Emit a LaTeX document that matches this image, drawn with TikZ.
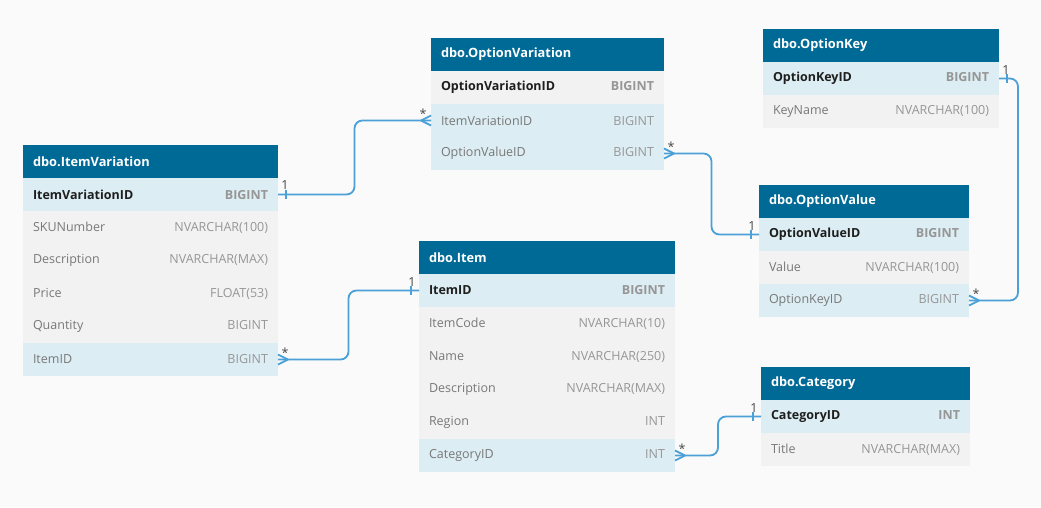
\documentclass[tikz,border=0pt]{standalone}
\usepackage{fontspec}
\setmainfont{Open Sans}
\usetikzlibrary{calc}

\definecolor{bgc}{RGB}{250,250,250}
\definecolor{hdrc}{RGB}{0,106,150}
\definecolor{rowblue}{RGB}{220,237,243}
\definecolor{rowgray}{RGB}{242,242,242}
\definecolor{pkname}{RGB}{30,30,30}
\definecolor{pktype}{RGB}{150,150,150}
\definecolor{fname}{RGB}{120,120,120}
\definecolor{ftype}{RGB}{150,150,150}
\definecolor{connc}{RGB}{75,160,215}
\definecolor{cardc}{RGB}{70,70,70}

% one table row: column name left, column type right
\newcommand\pk[2]{\hbox to \hsize{\bfseries\color{pkname}#1\hfill\color{pktype}#2}}
\newcommand\fld[2]{\hbox to \hsize{\color{fname}#1\hfill\color{ftype}#2}}

% relation end markers
\newcommand\manymark[2]{\draw[conn,rounded corners=0pt] ([xshift=#2]#1) -- ([yshift=5pt]#1) ([xshift=#2]#1) -- ([yshift=-5pt]#1);}
\newcommand\onemark[2]{\draw[conn,rounded corners=0pt] ([xshift=#2,yshift=4.5pt]#1) -- ([xshift=#2,yshift=-4.5pt]#1);}

\tikzset{
  cell/.style={rectangle, anchor=north west, inner xsep=10pt, inner ysep=0pt,
    outer sep=0pt, minimum height=33pt, align=left, font=\fontsize{12.5}{15}\selectfont},
  hdr/.style={cell, fill=hdrc, text=white, font=\fontsize{12.8}{15}\selectfont\bfseries},
  blue/.style={cell, fill=rowblue},
  gray/.style={cell, fill=rowgray},
  conn/.style={draw=connc, line width=1.8pt, rounded corners=8pt},
  card/.style={text=cardc, inner sep=0pt, font=\fontsize{12.5}{14}\selectfont}
}

\begin{document}
\begin{tikzpicture}[x=1pt,y=-1pt]
\fill[bgc] (0,0) rectangle (1041,507);
\useasboundingbox (0,0) rectangle (1041,507);

% dbo.ItemVariation
\begin{scope}[every node/.append style={text width=235pt}]
\node[hdr] (iv) at (23,145) {dbo.ItemVariation};
\node[blue] (iv1) at (iv.south west) {\pk{ItemVariationID}{BIGINT}};
\node[gray] (iv2) at (iv1.south west) {\fld{SKUNumber}{NVARCHAR(100)}};
\node[gray] (iv3) at (iv2.south west) {\fld{Description}{NVARCHAR(MAX)}};
\node[gray] (iv4) at (iv3.south west) {\fld{Price}{FLOAT(53)}};
\node[gray] (iv5) at (iv4.south west) {\fld{Quantity}{BIGINT}};
\node[blue] (iv6) at (iv5.south west) {\fld{ItemID}{BIGINT}};
\end{scope}

% dbo.OptionVariation
\begin{scope}[every node/.append style={text width=213pt}]
\node[hdr] (ov) at (431,38) {dbo.OptionVariation};
\node[gray] (ov1) at (ov.south west) {\pk{OptionVariationID}{BIGINT}};
\node[blue] (ov2) at (ov1.south west) {\fld{ItemVariationID}{BIGINT}};
\node[blue] (ov3) at (ov2.south west) {\fld{OptionValueID}{BIGINT}};
\end{scope}

% dbo.OptionKey
\begin{scope}[every node/.append style={text width=216pt}]
\node[hdr] (ok) at (763,29) {dbo.OptionKey};
\node[blue] (ok1) at (ok.south west) {\pk{OptionKeyID}{BIGINT}};
\node[gray] (ok2) at (ok1.south west) {\fld{KeyName}{NVARCHAR(100)}};
\end{scope}

% dbo.OptionValue
\begin{scope}[every node/.append style={text width=190pt}]
\node[hdr] (vl) at (759,185) {dbo.OptionValue};
\node[blue] (vl1) at (vl.south west) {\pk{OptionValueID}{BIGINT}};
\node[gray] (vl2) at (vl1.south west) {\fld{Value}{NVARCHAR(100)}};
\node[blue] (vl3) at (vl2.south west) {\fld{OptionKeyID}{BIGINT}};
\end{scope}

% dbo.Item
\begin{scope}[every node/.append style={text width=236pt}]
\node[hdr] (it) at (419,241) {dbo.Item};
\node[blue] (it1) at (it.south west) {\pk{ItemID}{BIGINT}};
\node[gray] (it2) at (it1.south west) {\fld{ItemCode}{NVARCHAR(10)}};
\node[gray] (it3) at (it2.south west) {\fld{Name}{NVARCHAR(250)}};
\node[gray] (it4) at (it3.south west) {\fld{Description}{NVARCHAR(MAX)}};
\node[gray] (it5) at (it4.south west) {\fld{Region}{INT}};
\node[blue] (it6) at (it5.south west) {\fld{CategoryID}{INT}};
\end{scope}

% dbo.Category
\begin{scope}[every node/.append style={text width=189pt}]
\node[hdr] (ct) at (761,367) {dbo.Category};
\node[blue] (ct1) at (ct.south west) {\pk{CategoryID}{INT}};
\node[gray] (ct2) at (ct1.south west) {\fld{Title}{NVARCHAR(MAX)}};
\end{scope}

% relations
\draw[conn] (iv1.east) -| ($(iv1.east)!0.5!(ov2.west)$) |- (ov2.west);
\onemark{iv1.east}{8pt}  \manymark{ov2.west}{-10pt}
\node[card] (c1a) at ([xshift=7pt,yshift=9pt]iv1.east) {1};
\node[card] (c1b) at ([xshift=-8pt,yshift=7pt]ov2.west) {*};

\draw[conn] (iv6.east) -| ($(iv6.east)!0.5!(it1.west)$) |- (it1.west);
\manymark{iv6.east}{10pt}  \onemark{it1.west}{-8pt}
\node[card] (c2a) at ([xshift=7pt,yshift=7pt]iv6.east) {*};
\node[card] (c2b) at ([xshift=-7pt,yshift=8pt]it1.west) {1};

\draw[conn] (ov3.east) -| ($(ov3.east)!0.5!(vl1.west)$) |- (vl1.west);
\manymark{ov3.east}{10pt}  \onemark{vl1.west}{-8pt}
\node[card] (c3a) at ([xshift=7pt,yshift=7pt]ov3.east) {*};
\node[card] (c3b) at ([xshift=-7pt,yshift=8pt]vl1.west) {1};

\draw[conn] (ok1.east) -- ++(19,0) |- (vl3.east);
\onemark{ok1.east}{8pt}  \manymark{vl3.east}{10pt}
\node[card] (c4a) at ([xshift=7pt,yshift=8pt]ok1.east) {1};
\node[card] (c4b) at ([xshift=7pt,yshift=7pt]vl3.east) {*};

\draw[conn] (it6.east) -| ($(it6.east)!0.5!(ct1.west)$) |- (ct1.west);
\manymark{it6.east}{10pt}  \onemark{ct1.west}{-8pt}
\node[card] (c5a) at ([xshift=7pt,yshift=7pt]it6.east) {*};
\node[card] (c5b) at ([xshift=-7pt,yshift=8pt]ct1.west) {1};
\end{tikzpicture}
\end{document}
